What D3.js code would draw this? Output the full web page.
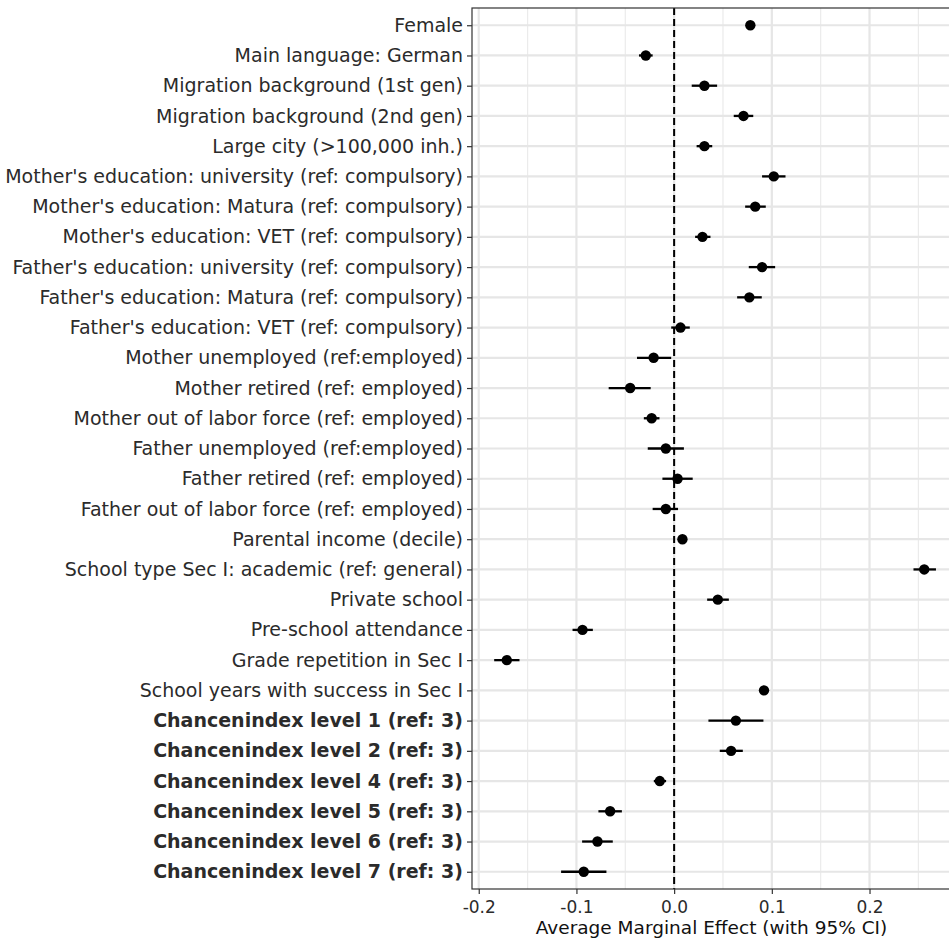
<!DOCTYPE html>
<html>
<head>
<meta charset="utf-8">
<script src="https://cdn.jsdelivr.net/npm/d3@7"></script>
<style>
  body { margin: 0; background: #fff; }
  text { font-family: "DejaVu Sans", sans-serif; }
</style>
</head>
<body>
<svg id="chart"></svg>
<script>
const width = 949;
const height = 941;

// terms, top to bottom
const terms = [
  "Female",
  "Main language: German",
  "Migration background (1st gen)",
  "Migration background (2nd gen)",
  "Large city (>100,000 inh.)",
  "Mother's education: university (ref: compulsory)",
  "Mother's education: Matura (ref: compulsory)",
  "Mother's education: VET (ref: compulsory)",
  "Father's education: university (ref: compulsory)",
  "Father's education: Matura (ref: compulsory)",
  "Father's education: VET (ref: compulsory)",
  "Mother unemployed (ref:employed)",
  "Mother retired (ref: employed)",
  "Mother out of labor force (ref: employed)",
  "Father unemployed (ref:employed)",
  "Father retired (ref: employed)",
  "Father out of labor force (ref: employed)",
  "Parental income (decile)",
  "School type Sec I: academic (ref: general)",
  "Private school",
  "Pre-school attendance",
  "Grade repetition in Sec I",
  "School years with success in Sec I",
  "Chancenindex level 1 (ref: 3)",
  "Chancenindex level 2 (ref: 3)",
  "Chancenindex level 4 (ref: 3)",
  "Chancenindex level 5 (ref: 3)",
  "Chancenindex level 6 (ref: 3)",
  "Chancenindex level 7 (ref: 3)"
];
const ame = [0.078, -0.029, 0.031, 0.071, 0.031, 0.102, 0.083, 0.029, 0.090, 0.077,
  0.0065, -0.021, -0.045, -0.023, -0.0085, 0.0035, -0.0085, 0.0085, 0.256, 0.0447,
  -0.0938, -0.1713, 0.0920, 0.0632, 0.0583, -0.0147, -0.0655, -0.0785, -0.0925];
const ciLow = [0.074, -0.036, 0.018, 0.061, 0.023, 0.090, 0.0727, 0.0215, 0.0764, 0.0645,
  -0.003, -0.038, -0.067, -0.031, -0.027, -0.012, -0.022, 0.0065, 0.245, 0.0338,
  -0.104, -0.1842, 0.0900, 0.0351, 0.0467, -0.0208, -0.0775, -0.0942, -0.1157];
const ciHigh = [0.082, -0.022, 0.044, 0.081, 0.039, 0.114, 0.0938, 0.0372, 0.1034, 0.0897,
  0.016, -0.003, -0.024, -0.015, 0.010, 0.019, 0.004, 0.0105, 0.268, 0.056,
  -0.0832, -0.1583, 0.0940, 0.0914, 0.0703, -0.0082, -0.0535, -0.0628, -0.0693];
const boldTerms = terms.filter(t => t.startsWith("Chancenindex"));
const majorTicks = [-0.2, -0.1, 0, 0.1, 0.2];
const minorTicks = [-0.15, -0.05, 0.05, 0.15, 0.25];

const rows = terms.map((t, i) => ({term: t, est: ame[i], lo: ciLow[i], hi: ciHigh[i]}));

const panel = {left: 472, top: 8, right: 951, bottom: 889};

const svg = d3.select("#chart").attr("width", width).attr("height", height);

const x = d3.scaleLinear().domain([-0.2069, 0.2834]).range([panel.left, panel.right]);
const y = d3.scalePoint().domain(terms).range([panel.top, panel.bottom]).padding(0.57);

const grid = svg.append("g");
grid.selectAll(".minor").data(minorTicks).enter().append("line")
    .attr("x1", d => x(d)).attr("x2", d => x(d))
    .attr("y1", panel.top).attr("y2", panel.bottom)
    .style("stroke", "#ebebeb").style("stroke-width", 1.2);
grid.selectAll(".major").data(majorTicks).enter().append("line")
    .attr("x1", d => x(d)).attr("x2", d => x(d))
    .attr("y1", panel.top).attr("y2", panel.bottom)
    .style("stroke", "#e6e6e6").style("stroke-width", 2.2);
grid.selectAll(".hmajor").data(terms).enter().append("line")
    .attr("x1", panel.left).attr("x2", panel.right)
    .attr("y1", d => y(d)).attr("y2", d => y(d))
    .style("stroke", "#e6e6e6").style("stroke-width", 2.2);

// reference line at zero
svg.append("line")
    .attr("x1", x(0)).attr("x2", x(0))
    .attr("y1", panel.top).attr("y2", panel.bottom)
    .style("stroke", "#000").style("stroke-width", 2)
    .style("stroke-dasharray", "7,4");

const marks = svg.append("g");
marks.selectAll(".ci").data(rows).enter().append("line")
    .attr("x1", d => x(d.lo)).attr("x2", d => x(d.hi))
    .attr("y1", d => y(d.term)).attr("y2", d => y(d.term))
    .style("stroke", "#000").style("stroke-width", 2.3);
marks.selectAll(".pt").data(rows).enter().append("circle")
    .attr("cx", d => x(d.est)).attr("cy", d => y(d.term))
    .attr("r", 5.2)
    .style("fill", "#000");

// panel border
svg.append("rect")
    .attr("x", panel.left).attr("y", panel.top)
    .attr("width", panel.right - panel.left).attr("height", panel.bottom - panel.top)
    .style("fill", "none").style("stroke", "#333").style("stroke-width", 1.2);

// axes
const xAxis = svg.append("g")
    .attr("transform", `translate(0,${panel.bottom})`)
    .call(d3.axisBottom(x).tickValues(majorTicks).tickSize(5).tickPadding(7));
xAxis.select(".domain").remove();
xAxis.selectAll("line").style("stroke", "#333").style("stroke-width", 1.2);
xAxis.selectAll("text").style("font-size", "17px").style("fill", "#2b2b2b")
    .style("font-family", "DejaVu Sans, sans-serif")
    .text(d => d3.format(".1f")(d).replace("−", "-"));

const yAxis = svg.append("g")
    .attr("transform", `translate(${panel.left},0)`)
    .call(d3.axisLeft(y).tickSize(5).tickPadding(4));
yAxis.select(".domain").remove();
yAxis.selectAll("line").style("stroke", "#333").style("stroke-width", 1.2);
yAxis.selectAll("text").style("font-size", "19px").style("fill", "#2b2b2b")
    .style("font-family", "DejaVu Sans, sans-serif")
    .style("font-weight", d => boldTerms.includes(d) ? "bold" : "normal");

svg.append("text")
    .attr("x", (panel.left + panel.right) / 2)
    .attr("y", 934)
    .attr("text-anchor", "middle")
    .style("font-size", "18.5px")
    .style("fill", "#111")
    .text("Average Marginal Effect (with 95% CI)");
</script>
</body>
</html>
